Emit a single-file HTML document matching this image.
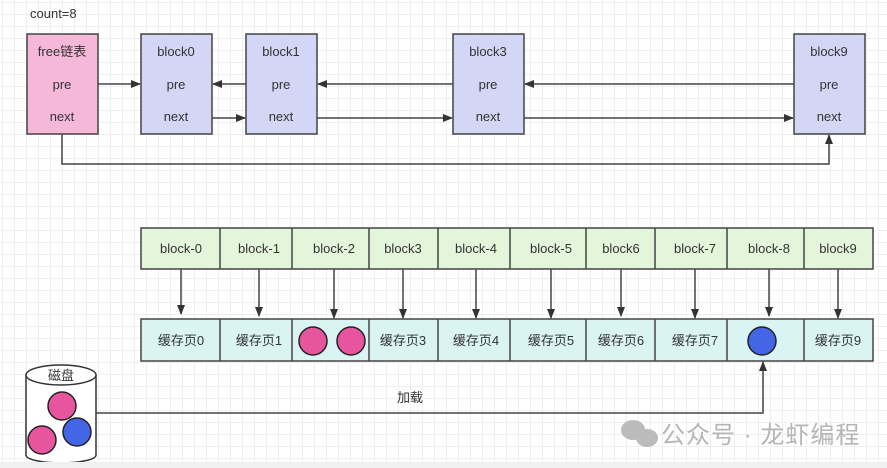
<!DOCTYPE html>
<html><head><meta charset="utf-8"><style>
body{margin:0;width:887px;height:468px;overflow:hidden;background:#fff;
background-image:linear-gradient(#efefef 1px,transparent 1px),linear-gradient(90deg,#efefef 1px,transparent 1px);background-size:12px 12px;background-position:2px 2px;}
svg{position:absolute;left:0;top:0}
text{font-family:"Liberation Sans","Noto Sans CJK SC",sans-serif;font-size:13px;fill:#333}
</style></head><body>
<svg width="887" height="468" viewBox="0 0 887 468">
<defs><marker id="a" markerWidth="10" markerHeight="10" refX="9" refY="5" orient="auto" markerUnits="userSpaceOnUse"><path d="M0,1 L10,5 L0,9 Z" fill="#333"/></marker></defs>
<text x="30" y="18">count=8</text>
<g stroke="#444" stroke-width="1.5">
<rect x="27" y="34" width="71" height="100" fill="#f5b8d9"/>
<rect x="141" y="34" width="71" height="100" fill="#d4d6f6"/>
<rect x="246" y="34" width="71" height="100" fill="#d4d6f6"/>
<rect x="453" y="34" width="71" height="100" fill="#d4d6f6"/>
<rect x="794" y="34" width="71" height="100" fill="#d4d6f6"/>
</g>
<g text-anchor="middle">
<text x="62" y="56">free链表</text><text x="62" y="89">pre</text><text x="62" y="121">next</text>
<text x="176" y="56">block0</text><text x="176" y="89">pre</text><text x="176" y="121">next</text>
<text x="281" y="56">block1</text><text x="281" y="89">pre</text><text x="281" y="121">next</text>
<text x="488" y="56">block3</text><text x="488" y="89">pre</text><text x="488" y="121">next</text>
<text x="829" y="56">block9</text><text x="829" y="89">pre</text><text x="829" y="121">next</text>
</g>
<g stroke="#444" stroke-width="1.5" fill="none" marker-end="url(#a)">
<line x1="98" y1="84" x2="140" y2="84"/>
<line x1="246" y1="84" x2="213" y2="84"/>
<line x1="453" y1="84" x2="318" y2="84"/>
<line x1="794" y1="84" x2="525" y2="84"/>
<line x1="212" y1="118" x2="245" y2="118"/>
<line x1="317" y1="118" x2="452" y2="118"/>
<line x1="524" y1="118" x2="793" y2="118"/>
<polyline points="62,134 62,164 829,164 829,135"/>
</g>
<g stroke="#444" stroke-width="1.5" fill="#e3f5da">
<rect x="141" y="228" width="732" height="41"/>
</g>
<g stroke="#444" stroke-width="1.5" fill="#daf3f3">
<rect x="141" y="319" width="732" height="42"/>
</g>
<g stroke="#444" stroke-width="1.5">
<line x1="220" y1="228" x2="220" y2="269"/><line x1="292" y1="228" x2="292" y2="269"/><line x1="369" y1="228" x2="369" y2="269"/><line x1="438" y1="228" x2="438" y2="269"/><line x1="510" y1="228" x2="510" y2="269"/><line x1="586" y1="228" x2="586" y2="269"/><line x1="655" y1="228" x2="655" y2="269"/><line x1="727" y1="228" x2="727" y2="269"/><line x1="804" y1="228" x2="804" y2="269"/>
<line x1="220" y1="319" x2="220" y2="361"/><line x1="292" y1="319" x2="292" y2="361"/><line x1="369" y1="319" x2="369" y2="361"/><line x1="438" y1="319" x2="438" y2="361"/><line x1="510" y1="319" x2="510" y2="361"/><line x1="586" y1="319" x2="586" y2="361"/><line x1="655" y1="319" x2="655" y2="361"/><line x1="727" y1="319" x2="727" y2="361"/><line x1="804" y1="319" x2="804" y2="361"/>
</g>
<g text-anchor="middle">
<text x="181" y="253">block-0</text><text x="259" y="253">block-1</text><text x="334" y="253">block-2</text><text x="403" y="253">block3</text><text x="476" y="253">block-4</text><text x="551" y="253">block-5</text><text x="621" y="253">block6</text><text x="695" y="253">block-7</text><text x="769" y="253">block-8</text><text x="838" y="253">block9</text>
<text x="181" y="345">缓存页0</text><text x="259" y="345">缓存页1</text><text x="403" y="345">缓存页3</text><text x="476" y="345">缓存页4</text><text x="551" y="345">缓存页5</text><text x="621" y="345">缓存页6</text><text x="695" y="345">缓存页7</text><text x="838" y="345">缓存页9</text>
</g>
<g stroke="#444" stroke-width="1.5" marker-end="url(#a)">
<line x1="181" y1="269" x2="181" y2="314"/><line x1="259" y1="269" x2="259" y2="316"/><line x1="334" y1="269" x2="334" y2="318"/><line x1="403" y1="269" x2="403" y2="318"/><line x1="476" y1="269" x2="476" y2="318"/><line x1="551" y1="269" x2="551" y2="318"/><line x1="621" y1="269" x2="621" y2="316"/><line x1="695" y1="269" x2="695" y2="318"/><line x1="769" y1="269" x2="769" y2="316"/><line x1="838" y1="269" x2="838" y2="318"/>
</g>
<g stroke="#222" stroke-width="1.5">
<circle cx="313" cy="341" r="14" fill="#e8559f"/><circle cx="351" cy="341" r="14" fill="#e8559f"/>
<circle cx="762" cy="341" r="14" fill="#4466e6"/>
</g>
<path d="M26,375 L26,455 A35,8 0 0 0 96,455 L96,375" fill="#fff" stroke="#333" stroke-width="1.5"/>
<ellipse cx="61" cy="375" rx="35" ry="10" fill="#fff" stroke="#333" stroke-width="1.5"/>
<text x="61" y="380" text-anchor="middle" font-size="12">磁盘</text>
<g stroke="#222" stroke-width="1.5">
<circle cx="62" cy="406" r="14" fill="#e8559f"/><circle cx="42" cy="440" r="14" fill="#e8559f"/><circle cx="77" cy="432" r="14" fill="#4466e6"/>
</g>
<polyline points="96,413 763,413 763,362" fill="none" stroke="#444" stroke-width="1.5" marker-end="url(#a)"/>
<text x="410" y="402" text-anchor="middle">加载</text>
<g fill="#bbb"><ellipse cx="633" cy="430" rx="12" ry="10"/><ellipse cx="647" cy="438" rx="11" ry="9"/></g>
<text x="661" y="443" style="font-size:24px;fill:#b5b5b5;letter-spacing:1px">公众号 · 龙虾编程</text>
<rect x="0" y="462" width="887" height="6" fill="#f0f0f0"/>
</svg>
</body></html>
